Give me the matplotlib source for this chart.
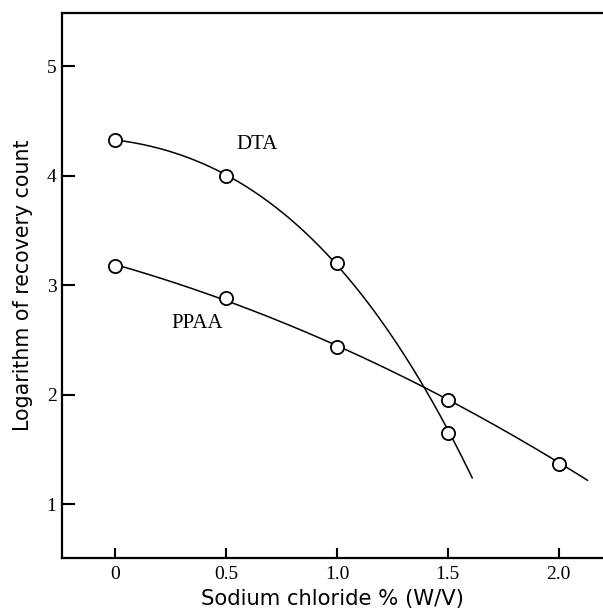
import numpy as np
import matplotlib
matplotlib.use("Agg")
import matplotlib.pyplot as plt

# values
nacl = [0, 0.5, 1.0, 1.5, 2.0]
dta_x = [0, 0.5, 1.0, 1.5]
dta_y = [4.33, 4.0, 3.2, 1.65]
dta_end = (1.61, 1.26)
ppaa_x = [0, 0.5, 1.0, 1.5, 2.0]
ppaa_y = [3.18, 2.88, 2.44, 1.95, 1.37]
ppaa_end = (2.13, 1.23)
xtick_labels = ["0", "0.5", "1.0", "1.5", "2.0"]
yticks = [1, 2, 3, 4, 5]

serif = "Liberation Serif"

fig = plt.figure(figsize=(6.03, 6.10), dpi=100)
ax = fig.add_axes([0.103, 0.085, 0.897, 0.894])

# smooth curves through the points, carried on to where the drawn line stops
cx = np.append(dta_x, dta_end[0])
cy = np.append(dta_y, dta_end[1])
c = np.polyfit(cx, cy, 3)
xs = np.linspace(0, dta_end[0], 200)
ax.plot(xs, np.polyval(c, xs), color="black", lw=1.1)

px = np.append(ppaa_x, ppaa_end[0])
py = np.append(ppaa_y, ppaa_end[1])
p = np.polyfit(px, py, 2)
xs = np.linspace(0, ppaa_end[0], 200)
ax.plot(xs, np.polyval(p, xs), color="black", lw=1.1)

ax.plot(dta_x, dta_y, "o", ms=9.5, mfc="white", mec="black", mew=1.3)
ax.plot(ppaa_x, ppaa_y, "o", ms=9.5, mfc="white", mec="black", mew=1.3)

ax.text(0.64, 4.29, "DTA", fontsize=15, family=serif, ha="center", va="center")
ax.text(0.37, 2.65, "PPAA", fontsize=15, family=serif, ha="center", va="center")

ax.set_xlim(-0.24, 2.2)
ax.set_ylim(0.506, 5.49)
ax.set_xticks(nacl)
ax.set_xticklabels(xtick_labels, family=serif, fontsize=14)
ax.set_yticks(yticks)
ax.set_yticklabels([str(v) for v in yticks], family=serif, fontsize=14)
ax.tick_params(axis="y", direction="in", length=9, width=1.5, pad=4)
ax.tick_params(axis="x", direction="in", length=7, width=1.5, pad=6)

for s in ["left", "bottom", "top"]:
    ax.spines[s].set_linewidth(1.6)
ax.spines["right"].set_visible(False)

ax.set_xlabel("Sodium chloride % (W/V)", fontsize=15.2, labelpad=4)
ax.set_ylabel("Logarithm of recovery count", fontsize=14.8, labelpad=10)

fig.savefig("out.png", dpi=100)
